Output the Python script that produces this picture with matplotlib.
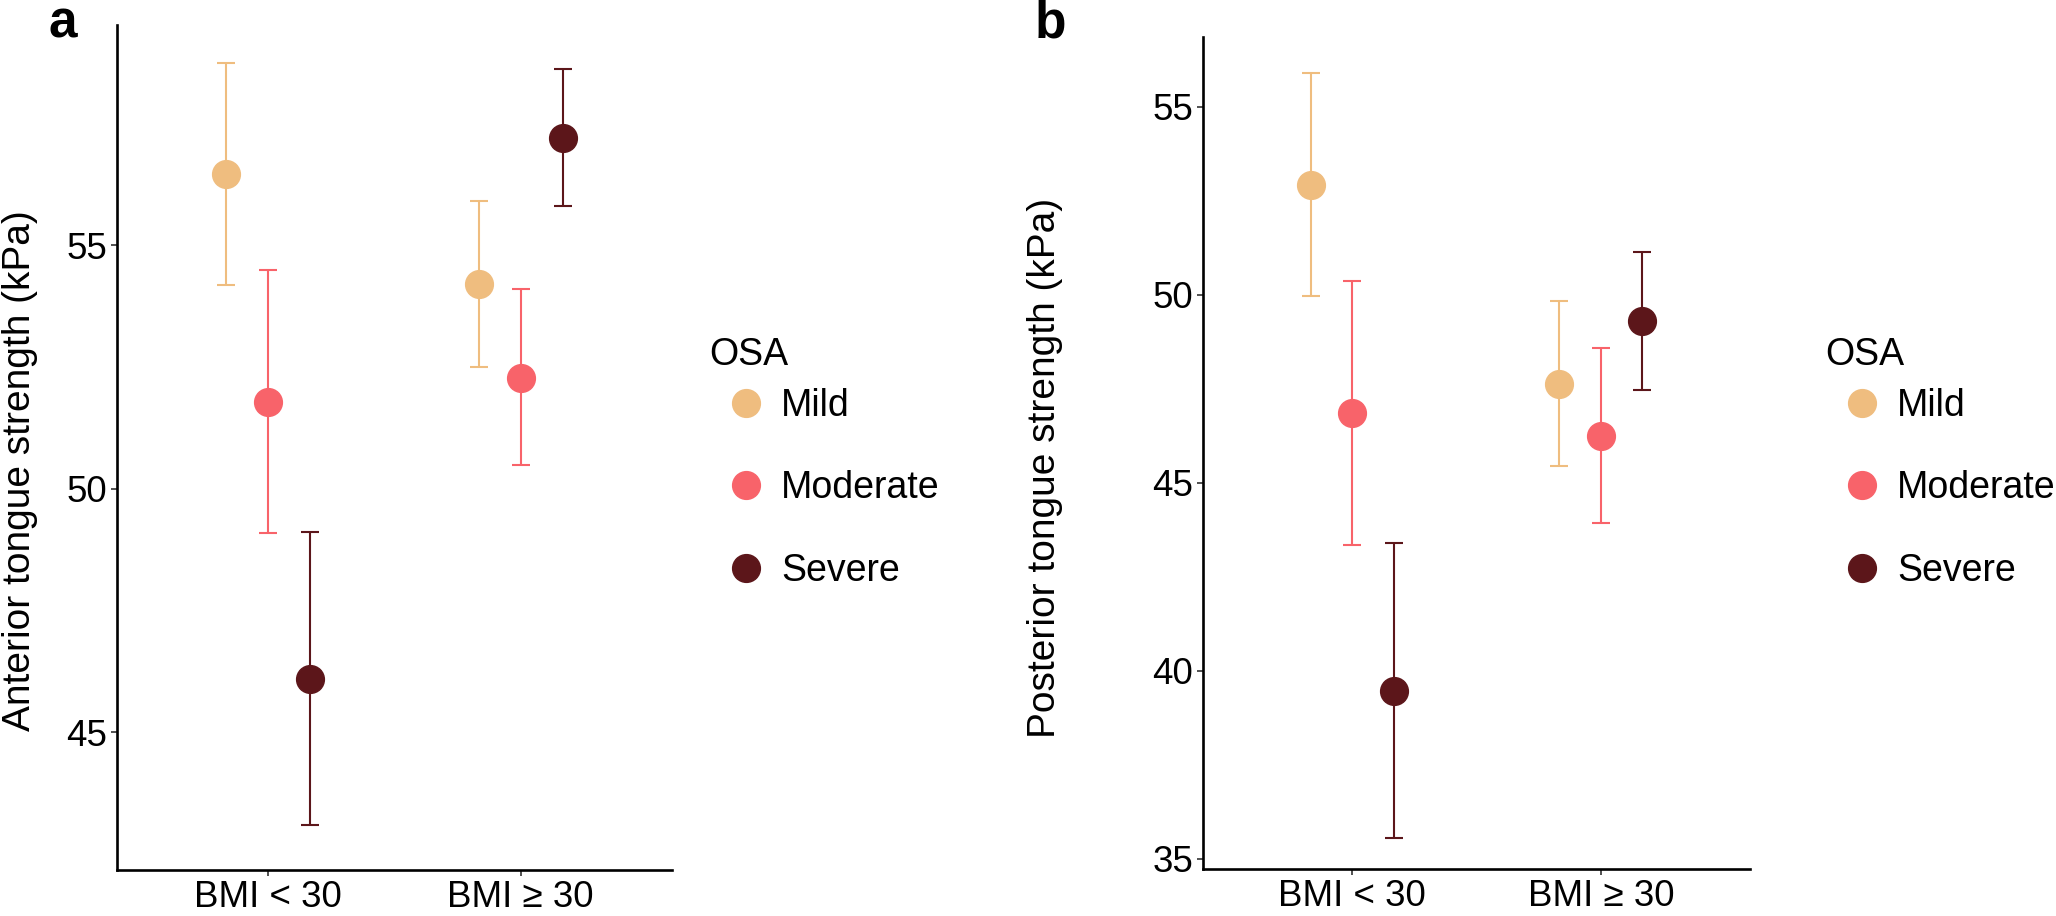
import numpy as np
import matplotlib
matplotlib.use("Agg")
import matplotlib.pyplot as plt
from matplotlib.lines import Line2D

plt.rcParams['font.family'] = ['Liberation Sans', 'DejaVu Sans']

# data
groups = ['BMI < 30', 'BMI \u2265 30']
severity = ['Mild', 'Moderate', 'Severe']
colors = ['#EFBD7F', '#F8636A', '#5C161A']

anterior_mean = [[56.46, 54.21], [51.77, 52.27], [46.10, 57.21]]
anterior_lo = [[54.18, 52.49], [49.09, 50.49], [43.10, 55.80]]
anterior_hi = [[58.75, 55.90], [54.49, 54.10], [49.12, 58.61]]

posterior_mean = [[52.92, 47.63], [46.87, 46.26], [39.47, 49.30]]
posterior_lo = [[49.98, 45.45], [43.34, 43.92], [35.55, 47.48]]
posterior_hi = [[55.89, 49.83], [50.38, 48.59], [43.39, 51.13]]

W, H = 2056, 916
fig = plt.figure(figsize=(W / 100, H / 100), dpi=100)


def px_axes(l, t, r, b):
    return fig.add_axes([l / W, 1 - b / H, (r - l) / W, (b - t) / H])


def panel(ax, mean, lo, hi, ylim, yticks, ylabel):
    x = np.arange(1, len(groups) + 1)
    dodge = 0.5 / 3
    for i, sev in enumerate(severity):
        xs = x + (i - 1) * dodge
        m = np.array(mean[i])
        err = [m - np.array(lo[i]), np.array(hi[i]) - m]
        ax.errorbar(xs, m, yerr=err, fmt='none', ecolor=colors[i],
                    elinewidth=1.5, capsize=6.5, capthick=1.5, zorder=2)
        ax.plot(xs, m, 'o', color=colors[i], markersize=20, zorder=3)
    ax.set_xlim(0.4, 2.6)
    ax.set_ylim(*ylim)
    ax.set_xticks(x)
    ax.set_xticklabels(groups)
    ax.set_yticks(yticks)
    ax.set_ylabel(ylabel, fontsize=28)
    for s in ['top', 'right']:
        ax.spines[s].set_visible(False)
    for s in ['left', 'bottom']:
        ax.spines[s].set_linewidth(1.9)
    ax.tick_params(labelsize=26.5, length=4, width=1.2, color='#333333', pad=3)


ax1 = px_axes(117, 25, 672, 870)
panel(ax1, anterior_mean, anterior_lo, anterior_hi, (42.17, 59.52), [45, 50, 55],
      'Anterior tongue strength (kPa)')
ax1.yaxis.set_label_coords(-0.142, 0.473)

ax2 = px_axes(1203, 37, 1750, 869)
panel(ax2, posterior_mean, posterior_lo, posterior_hi, (34.73, 56.86), [35, 40, 45, 50, 55],
      'Posterior tongue strength (kPa)')
ax2.yaxis.set_label_coords(-0.256, 0.482)

fig.text(48 / W, 1 - 37 / H, 'a', fontsize=37, fontweight='bold', ha='left', va='baseline')
fig.text(1035 / W, 1 - 37 / H, 'b', fontsize=37, fontweight='bold', ha='left', va='baseline')

handles = [Line2D([], [], marker='o', linestyle='none', color=c, markersize=20) for c in colors]
for lx, tx in [(709, 727), (1825, 1843)]:
    fig.text(lx / W, 1 - 355 / H, 'OSA', fontsize=27, ha='left', va='center')
    fig.legend(handles, severity, loc='upper left', bbox_to_anchor=(tx / W, 1 - 388 / H),
               frameon=False, fontsize=27, handlelength=1.0, handletextpad=0.45,
               labelspacing=1.24, borderpad=0, borderaxespad=0)

fig.savefig('out.png', dpi=100)
